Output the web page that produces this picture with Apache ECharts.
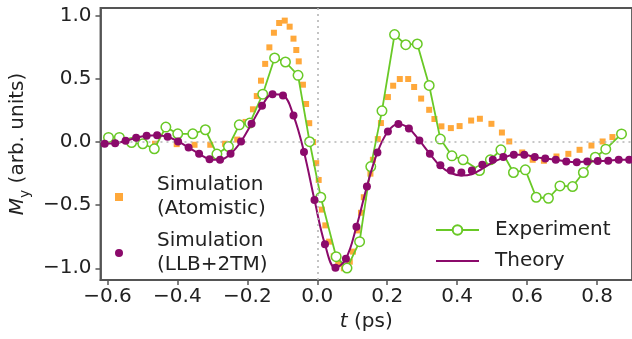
<!DOCTYPE html>
<html>
<head>
<meta charset="utf-8">
<script src="https://cdn.jsdelivr.net/npm/echarts@6/dist/echarts.min.js"></script>
<style>
  html, body { margin: 0; padding: 0; background: #fff; }
  #chart { width: 632px; height: 339px; }
</style>
</head>
<body>
<div id="chart"></div>
<script>
// time axis (ps) and M_y values
const atomTime = [-0.464, -0.402, -0.351, -0.306, -0.264, -0.229, -0.205, -0.184, -0.173, -0.161,
  -0.149, -0.137, -0.124, -0.109, -0.093, -0.079, -0.068, -0.06, -0.053, -0.041,
  -0.032, -0.023, -0.012, -0.003, 0.004, 0.013, 0.023, 0.034, 0.047, 0.06,
  0.076, 0.093, 0.102, 0.115, 0.125, 0.133, 0.142, 0.152, 0.159, 0.173,
  0.182, 0.202, 0.217, 0.236, 0.26, 0.277, 0.297, 0.32, 0.335, 0.355,
  0.382, 0.407, 0.44, 0.465, 0.498, 0.528, 0.549, 0.586, 0.616, 0.648,
  0.684, 0.718, 0.75, 0.784, 0.816, 0.844, 0.874];
const atomMy = [-0.013, -0.016, -0.021, -0.021, -0.013, 0.02, 0.16, 0.26, 0.365, 0.487,
  0.62, 0.751, 0.867, 0.944, 0.963, 0.915, 0.82, 0.73, 0.64, 0.455,
  0.302, 0.15, 0.0, -0.167, -0.3, -0.535, -0.66, -0.789, -0.905, -0.965,
  -1.0, -0.948, -0.868, -0.7, -0.56, -0.437, -0.352, -0.25, -0.14, 0.024,
  0.151, 0.357, 0.447, 0.5, 0.5, 0.437, 0.345, 0.256, 0.183, 0.125,
  0.111, 0.127, 0.171, 0.185, 0.145, 0.076, 0.005, -0.082, -0.14, -0.148,
  -0.114, -0.093, -0.061, -0.027, 0.005, 0.04, 0.071];

const expTime = [-0.597, -0.566, -0.531, -0.499, -0.466, -0.433, -0.399, -0.356, -0.32, -0.287,
  -0.254, -0.223, -0.193, -0.156, -0.122, -0.091, -0.055, -0.022, 0.01, 0.054,
  0.085, 0.121, 0.153, 0.185, 0.221, 0.253, 0.286, 0.32, 0.352, 0.385,
  0.417, 0.464, 0.495, 0.525, 0.561, 0.595, 0.626, 0.661, 0.694, 0.73,
  0.761, 0.795, 0.825, 0.87];
const expMy = [0.037, 0.037, -0.003, -0.013, -0.053, 0.119, 0.066, 0.066, 0.098, -0.095,
  -0.035, 0.137, 0.151, 0.38, 0.667, 0.635, 0.529, 0.003, -0.437, -0.908,
  -0.998, -0.789, -0.194, 0.248, 0.852, 0.772, 0.778, 0.449, 0.024, -0.109,
  -0.14, -0.225, -0.14, -0.061, -0.241, -0.22, -0.437, -0.445, -0.347, -0.352,
  -0.241, -0.12, -0.056, 0.065];

const llbTime = [-0.608, -0.578, -0.548, -0.518, -0.488, -0.458, -0.428, -0.398, -0.368, -0.338,
  -0.308, -0.278, -0.248, -0.218, -0.188, -0.158, -0.128, -0.098, -0.068, -0.038,
  -0.008, 0.022, 0.052, 0.082, 0.112, 0.142, 0.172, 0.202, 0.232, 0.262,
  0.292, 0.322, 0.352, 0.382, 0.412, 0.442, 0.472, 0.502, 0.532, 0.562,
  0.592, 0.622, 0.652, 0.682, 0.712, 0.742, 0.772, 0.802, 0.832, 0.862,
  0.892];
const llbMy = [-0.013, -0.01, 0.01, 0.034, 0.05, 0.055, 0.042, 0.005, -0.043, -0.093,
  -0.135, -0.14, -0.093, 0.005, 0.145, 0.288, 0.38, 0.37, 0.21, -0.078,
  -0.458, -0.81, -0.995, -0.924, -0.67, -0.352, -0.082, 0.084, 0.143, 0.108,
  0.013, -0.093, -0.183, -0.225, -0.241, -0.225, -0.18, -0.14, -0.119, -0.1,
  -0.1, -0.119, -0.13, -0.14, -0.154, -0.159, -0.154, -0.15, -0.148, -0.14,
  -0.14];
// theory curve, sampled at the same times (dips a bit lower near 0.4 ps)
const theoryMy = [-0.013, -0.01, 0.01, 0.034, 0.05, 0.055, 0.042, 0.005, -0.043, -0.093,
  -0.135, -0.14, -0.093, 0.005, 0.145, 0.288, 0.38, 0.37, 0.21, -0.078,
  -0.458, -0.81, -0.995, -0.924, -0.67, -0.352, -0.082, 0.084, 0.143, 0.108,
  0.013, -0.093, -0.19, -0.245, -0.265, -0.255, -0.21, -0.16, -0.125, -0.1,
  -0.1, -0.119, -0.13, -0.14, -0.154, -0.159, -0.154, -0.15, -0.148, -0.14,
  -0.14];

const xTicks = [-0.6, -0.4, -0.2, 0.0, 0.2, 0.4, 0.6, 0.8];
const yTicks = [-1.0, -0.5, 0.0, 0.5, 1.0];

const ORANGE = "#ffa83a";
const GREEN = "#69c926";
const PURPLE = "#8b0a6b";
const AXIS = "#555";
const FONT = "DejaVu Sans";

const zip = (t, v) => t.map((x, i) => [x, v[i]]);
const fmt = (v) => (v < 0 ? "\u2212" : "") + Math.abs(v).toFixed(1);

const chart = echarts.init(document.getElementById("chart"));

chart.setOption({
  animation: false,
  textStyle: { fontFamily: FONT },
  grid: {
    left: 97, top: 8, width: 540, height: 272,
    show: true, borderColor: AXIS, borderWidth: 1.8,
  },
  xAxis: {
    type: "value", min: -0.62, max: 0.9,
    axisLine: { show: true, onZero: false, lineStyle: { color: AXIS, width: 1.8 } },
    axisTick: { show: true, customValues: xTicks, length: 5, lineStyle: { color: AXIS, width: 1.5 } },
    axisLabel: { customValues: xTicks, formatter: fmt, fontSize: 20, color: "#222", margin: 7, fontFamily: FONT },
    splitLine: { show: false },
    name: "{it|t} (ps)",
    nameLocation: "middle", nameGap: 31,
    nameTextStyle: {
      fontSize: 20, color: "#222", fontFamily: FONT,
      rich: { it: { fontStyle: "italic", fontSize: 20, fontFamily: FONT, color: "#222" } },
    },
  },
  yAxis: {
    type: "value", min: -1.093, max: 1.063,
    axisLine: { show: true, onZero: false, lineStyle: { color: AXIS, width: 1.8 } },
    axisTick: { show: true, customValues: yTicks, length: 5, lineStyle: { color: AXIS, width: 1.5 } },
    axisLabel: { customValues: yTicks, formatter: fmt, fontSize: 20, color: "#222", margin: 9, fontFamily: FONT },
    splitLine: { show: false },
    name: "{it|M}{sub|y} (arb. units)",
    nameLocation: "middle", nameGap: 66,
    nameTextStyle: {
      fontSize: 20, color: "#222", fontFamily: FONT,
      rich: {
        it: { fontStyle: "italic", fontSize: 20, fontFamily: FONT, color: "#222" },
        sub: { fontSize: 14, fontFamily: FONT, color: "#222", padding: [14, 0, 0, 0] },
      },
    },
  },
  legend: [
    {
      data: ["Simulation\n(Atomistic)", "Simulation\n(LLB+2TM)"],
      orient: "vertical", left: 110, top: 168,
      itemWidth: 8, itemHeight: 8, itemGap: 8,
      textStyle: { fontSize: 20, lineHeight: 24, color: "#222", fontFamily: FONT, padding: [0, 0, 0, 29] },
      selectedMode: false,
    },
    {
      data: ["Experiment", { name: "Theory", itemStyle: { opacity: 0 } }],
      orient: "vertical", left: 430, top: 213,
      itemWidth: 43, itemHeight: 12, itemGap: 7,
      textStyle: { fontSize: 20, lineHeight: 24, color: "#222", fontFamily: FONT, padding: [0, 0, 0, 11] },
      selectedMode: false,
    },
  ],
  series: [
    {
      // dotted zero lines
      type: "line", data: [], z: 1, silent: true,
      markLine: {
        silent: true, symbol: "none", label: { show: false },
        lineStyle: { color: "#b5b5b5", type: [2, 4], width: 1.6 },
        data: [{ xAxis: 0 }, { yAxis: 0 }],
      },
    },
    {
      name: "Simulation\n(Atomistic)",
      type: "scatter", z: 2,
      symbol: "rect", symbolSize: 6,
      itemStyle: { color: ORANGE, opacity: 1 },
      data: zip(atomTime, atomMy),
    },
    {
      name: "Experiment",
      type: "line", z: 3,
      symbol: "circle", symbolSize: 9.5, showAllSymbol: true,
      lineStyle: { color: GREEN, width: 1.8 },
      itemStyle: { color: "#fff", borderColor: GREEN, borderWidth: 1.5 },
      data: zip(expTime, expMy),
    },
    {
      name: "Theory",
      type: "line", z: 4,
      smooth: 0.4, symbol: "none",
      lineStyle: { color: PURPLE, width: 2 },
      itemStyle: { color: PURPLE },
      data: zip(llbTime, theoryMy),
    },
    {
      name: "Simulation\n(LLB+2TM)",
      type: "scatter", z: 5,
      symbol: "circle", symbolSize: 8,
      itemStyle: { color: PURPLE, opacity: 1 },
      data: zip(llbTime, llbMy),
    },
  ],
});
</script>
</body>
</html>
